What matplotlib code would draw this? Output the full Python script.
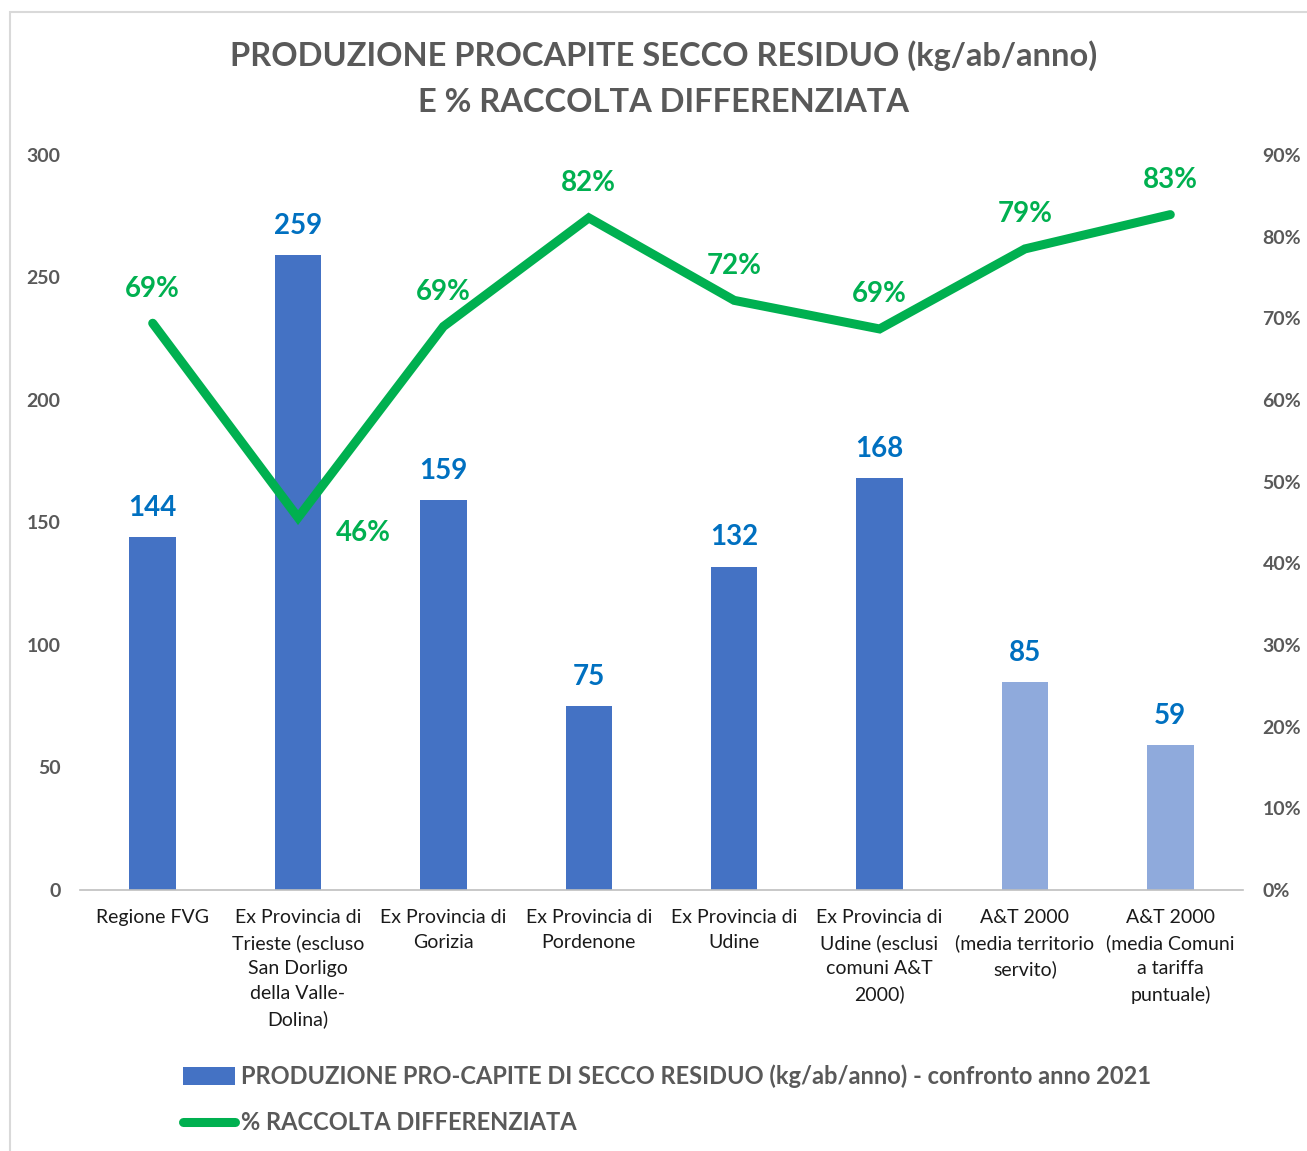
import matplotlib
matplotlib.use("Agg")
import matplotlib.pyplot as plt
from matplotlib.patches import Rectangle, Patch
from matplotlib.lines import Line2D

categories = [
    "Regione FVG",
    "Ex Provincia di\nTrieste (escluso\nSan Dorligo\ndella Valle-\nDolina)",
    "Ex Provincia di\nGorizia",
    "Ex Provincia di\nPordenone",
    "Ex Provincia di\nUdine",
    "Ex Provincia di\nUdine (esclusi\ncomuni A&T\n2000)",
    "A&T 2000\n(media territorio\nservito)",
    "A&T 2000\n(media Comuni\na tariffa\npuntuale)",
]
secco = [144, 259, 159, 75, 132, 168, 85, 59]
raccolta = [0.694, 0.456, 0.690, 0.823, 0.722, 0.687, 0.785, 0.827]
raccolta_labels = ["69%", "46%", "69%", "82%", "72%", "69%", "79%", "83%"]
left_ticks = [0, 50, 100, 150, 200, 250, 300]
right_ticks = [0, 0.1, 0.2, 0.3, 0.4, 0.5, 0.6, 0.7, 0.8, 0.9]
right_tick_labels = ["0%", "10%", "20%", "30%", "40%", "50%", "60%", "70%", "80%", "90%"]
title = "PRODUZIONE PROCAPITE SECCO RESIDUO (kg/ab/anno)\nE % RACCOLTA DIFFERENZIATA"
legend_bar = "PRODUZIONE PRO-CAPITE DI SECCO RESIDUO (kg/ab/anno) - confronto anno 2021"
legend_line = "% RACCOLTA DIFFERENZIATA"

plt.rcParams['font.family'] = ['Lato', 'DejaVu Sans']

W, H = 1307, 1151
fig = plt.figure(figsize=(W / 100, H / 100), dpi=100)
fig.patches.append(Rectangle((10 / W, -0.1), 1.2, 1 - 12 / H + 0.1, transform=fig.transFigure,
                             fill=False, edgecolor="#D9D9D9", linewidth=1.5))

ax = fig.add_axes([80 / W, 1 - 890 / H, (1243 - 80) / W, (890 - 155) / H])
ax2 = ax.twinx()
ax.set_zorder(1)
ax2.set_zorder(2)
ax.patch.set_visible(False)

gray = "#595959"
bar_colors = ["#4472C4"] * 6 + ["#8FAADC"] * 2
x = list(range(len(categories)))
ax.bar(x, secco, width=0.32, color=bar_colors, zorder=2)
for xi, v in zip(x, secco):
    ax.annotate(str(v), (xi, v), xytext=(0, 21), textcoords="offset points",
                ha="center", va="center", color="#0070C0", fontsize=20, fontweight="bold")

ax.set_xlim(-0.5, 7.5)
ax.set_ylim(0, 300)
ax.set_yticks(left_ticks)
ax.set_xticks(x)
ax.set_xticklabels(categories, fontsize=14, color="#1a1a1a", linespacing=1.55)
ax.tick_params(axis="x", length=0, pad=14)
ax.tick_params(axis="y", length=0, pad=14, labelsize=14, labelcolor=gray)
for lab in ax.get_yticklabels():
    lab.set_fontweight("bold")
for s in ["top", "right", "left"]:
    ax.spines[s].set_visible(False)
ax.spines["bottom"].set_color("#BFBFBF")
ax.spines["bottom"].set_linewidth(1.2)

ax2.plot(x, raccolta, color="#00B050", linewidth=6.5, solid_capstyle="round",
         solid_joinstyle="miter", zorder=3)
ax2.set_ylim(0, 0.9)
ax2.set_yticks(right_ticks)
ax2.set_yticklabels(right_tick_labels, fontsize=14, color=gray, fontweight="bold")
ax2.tick_params(axis="y", length=0, pad=14)
for s in ["top", "right", "left", "bottom"]:
    ax2.spines[s].set_visible(False)
for xi, v, lab in zip(x, raccolta, raccolta_labels):
    if lab == "46%":
        off = (47, -11)
    else:
        off = (0, 25)
    ax2.annotate(lab, (xi, v), xytext=off, textcoords="offset points",
                 ha="center", va="center", color="#00B050", fontsize=20, fontweight="bold")

fig.text(664 / W, 1 - 79 / H, title, ha="center", va="center", fontsize=23.5,
         fontweight="bold", color=gray, linespacing=1.7)

handles = [Patch(facecolor="#4472C4", edgecolor="none"),
           Line2D([0], [0], color="#00B050", linewidth=6.5, solid_capstyle="round")]
leg = fig.legend(handles, [legend_bar, legend_line], loc="upper left",
                 bbox_to_anchor=(162 / W, 1 - 1043 / H), frameon=False,
                 prop={"weight": "bold", "size": 17}, labelcolor=gray,
                 handlelength=2.2, handleheight=0.8, handletextpad=0.25, labelspacing=1.0)

fig.savefig("out.png", dpi=100)
